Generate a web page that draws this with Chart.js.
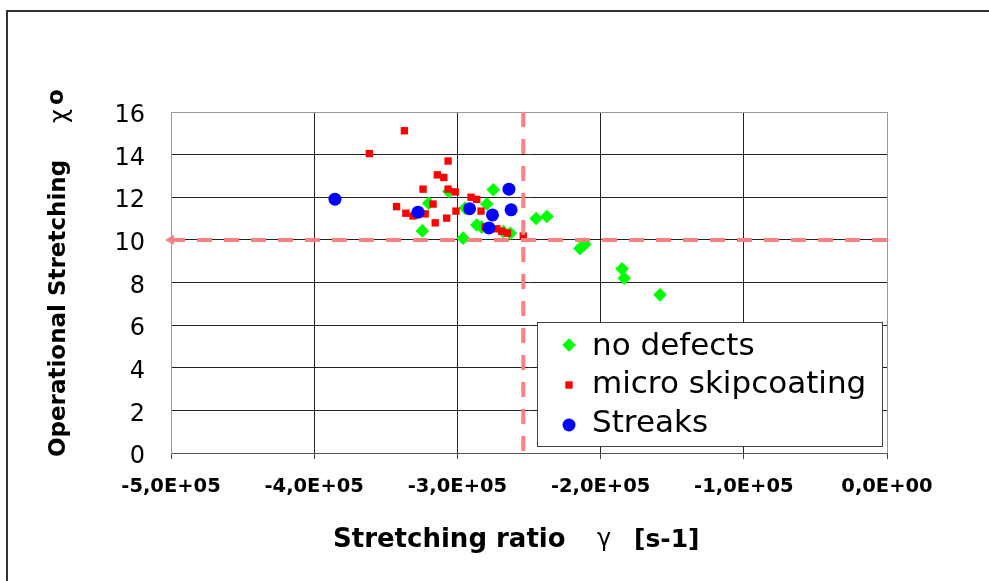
<!DOCTYPE html>
<html>
<head>
<meta charset="utf-8">
<title>Operational Stretching vs Stretching ratio</title>
<script src="https://cdn.jsdelivr.net/npm/chart.js"></script>
<style>
  html, body { margin: 0; padding: 0; background: #fff; }
  canvas { display: block; }
</style>
</head>
<body>
<canvas id="chart" width="989" height="581"></canvas>
<script>
// ===== DATA =====
const noDefectsX = [-2.75e5, -3.06e5, -3.20e5, -2.795e5, -2.945e5, -3.245e5, -2.96e5, -2.865e5, -2.83e5,
  -2.68e5, -2.63e5, -2.45e5, -2.375e5, -2.145e5, -2.11e5, -1.85e5, -1.835e5, -1.585e5]
const noDefectsY = [12.35, 12.27, 11.72, 11.68, 11.49, 10.42, 10.08, 10.7, 10.6,
  10.39, 10.31, 11.0, 11.1, 9.6, 9.8, 8.64, 8.2, 7.42]

const skipX = [-3.37e5, -3.615e5, -3.065e5, -3.14e5, -3.095e5, -3.24e5, -3.065e5, -3.015e5, -2.905e5,
  -2.865e5, -3.425e5, -3.17e5, -3.01e5, -2.835e5, -3.36e5, -3.31e5, -3.225e5, -3.075e5, -3.155e5,
  -2.805e5, -2.725e5, -2.69e5, -2.65e5, -2.54e5]
const skipY = [15.12, 14.05, 13.7, 13.05, 12.93, 12.38, 12.38, 12.25, 12.0,
  11.9, 11.56, 11.68, 11.35, 11.35, 11.25, 11.12, 11.22, 11.02, 10.8,
  10.6, 10.52, 10.4, 10.32, 10.18]

const streaksX = [-3.855e5, -3.275e5, -2.915e5, -2.755e5, -2.64e5, -2.625e5, -2.78e5]
const streaksY = [11.91, 11.3, 11.46, 11.17, 12.38, 11.41, 10.56]

// limit lines (dashed)
const limitVX = [-2.54e5, -2.54e5]
const limitVY = [16, 0]
const limitHX = [0, -5e5]
const limitHY = [10, 10]

const seriesLabels = ['no defects', 'micro skipcoating', 'Streaks']
const xTickLabels = ['-5,0E+05', '-4,0E+05', '-3,0E+05', '-2,0E+05', '-1,0E+05', '0,0E+00']
const yTickLabels = ['0', '2', '4', '6', '8', '10', '12', '14', '16']

const X_MIN = -5e5
const X_MAX = 0
const Y_MIN = 0
const Y_MAX = 16

function toPoints(xs, ys) {
  return xs.map((x, i) => ({ x: x, y: ys[i] }))
}

// ===== STYLE =====
const GREEN = '#00FF00'
const RED = '#FF0000'
const BLUE = '#0000FF'
const PINK = '#FF8080'
const FONT = '"DejaVu Sans", "Liberation Sans", sans-serif'

const markers = [
  { style: 'rectRot', radius: 6.8, color: GREEN },
  { style: 'rect', radius: 5.2, color: RED },
  { style: 'circle', radius: 6.5, color: BLUE }
]

// ===== PLUGIN: background + outer frame =====
const framePlugin = {
  id: 'frame',
  beforeDraw(chart) {
    const ctx = chart.ctx
    ctx.save()
    ctx.fillStyle = '#fff'
    ctx.fillRect(0, 0, chart.width, chart.height)
    ctx.strokeStyle = '#333'
    ctx.lineWidth = 2
    ctx.beginPath()
    ctx.moveTo(7, chart.height + 2)
    ctx.lineTo(7, 11)
    ctx.lineTo(chart.width + 2, 11)
    ctx.stroke()
    ctx.restore()
  }
}

// ===== PLUGIN: axis titles + legend box =====
const annotatePlugin = {
  id: 'annotate',
  afterDraw(chart) {
    const ctx = chart.ctx
    ctx.save()
    ctx.fillStyle = '#000'
    ctx.textAlign = 'left'
    ctx.textBaseline = 'alphabetic'

    // x title
    ctx.font = 'bold 26px ' + FONT
    ctx.fillText('Stretching ratio', 333, 547)
    ctx.font = '24px ' + FONT
    ctx.fillText('γ', 597, 546)
    ctx.font = 'bold 25px ' + FONT
    ctx.fillText('[s-1]', 634, 547)

    // y title (rotated)
    ctx.save()
    ctx.translate(65, 457)
    ctx.rotate(-Math.PI / 2)
    ctx.font = 'bold 23px ' + FONT
    ctx.fillText('Operational Stretching', 0, 0)
    ctx.font = '24px ' + FONT
    ctx.fillText('χ', 334, 2)
    ctx.font = 'bold 23px ' + FONT
    ctx.fillText('o', 352, -2)
    ctx.restore()

    // legend
    ctx.fillStyle = '#fff'
    ctx.fillRect(537.5, 322.5, 345, 124)
    ctx.strokeStyle = '#444'
    ctx.lineWidth = 1
    ctx.strokeRect(537.5, 322.5, 345, 124)

    const rowsY = [345, 385, 425]
    const baseY = [355, 393, 431.5]
    seriesLabels.forEach((label, i) => {
      const m = markers[i]
      ctx.fillStyle = m.color
      Chart.helpers.drawPoint(ctx, { pointStyle: m.style, radius: m.radius, rotation: 0, borderWidth: 0 }, 569, rowsY[i])
      ctx.fillStyle = '#000'
      ctx.font = '31px ' + FONT
      ctx.fillText(label, 592, baseY[i])
    })
    ctx.restore()
  }
}

// ===== RENDER =====
Chart.defaults.font.family = FONT
Chart.defaults.color = '#000'

const ctx = document.getElementById('chart').getContext('2d')

new Chart(ctx, {
  type: 'scatter',
  data: {
    datasets: [
      {
        label: seriesLabels[0],
        data: toPoints(noDefectsX, noDefectsY),
        pointStyle: markers[0].style,
        pointRadius: markers[0].radius,
        backgroundColor: GREEN,
        borderWidth: 0,
        order: 5
      },
      {
        label: seriesLabels[1],
        data: toPoints(skipX, skipY),
        pointStyle: markers[1].style,
        pointRadius: markers[1].radius,
        backgroundColor: RED,
        borderWidth: 0,
        order: 4
      },
      {
        label: seriesLabels[2],
        data: toPoints(streaksX, streaksY),
        pointStyle: markers[2].style,
        pointRadius: markers[2].radius,
        backgroundColor: BLUE,
        borderWidth: 0,
        order: 3
      },
      {
        label: 'limit gamma',
        data: toPoints(limitVX, limitVY),
        showLine: true,
        borderColor: PINK,
        borderWidth: 4,
        borderDash: [15, 12],
        pointRadius: 0,
        clip: 0,
        order: 2
      },
      {
        label: 'limit chi',
        data: toPoints(limitHX, limitHY),
        showLine: true,
        borderColor: PINK,
        borderWidth: 4,
        borderDash: [15, 12],
        pointRadius: [0, 6],
        pointStyle: 'triangle',
        pointRotation: -90,
        pointBackgroundColor: PINK,
        pointBorderWidth: 0,
        clip: false,
        order: 1
      }
    ]
  },
  options: {
    responsive: false,
    animation: false,
    events: [],
    layout: {
      padding: { top: 112, right: 102, left: 0, bottom: 0 }
    },
    plugins: {
      legend: { display: false },
      tooltip: { enabled: false }
    },
    scales: {
      x: {
        type: 'linear',
        min: X_MIN,
        max: X_MAX,
        afterFit: scale => { scale.height = 128 },
        ticks: {
          stepSize: 1e5,
          padding: 16,
          font: { size: 19.5, weight: 'bold' },
          callback: (value, index) => xTickLabels[index]
        },
        grid: {
          color: c => (c.tick && (c.tick.value === X_MIN || c.tick.value === X_MAX)) ? '#999' : '#222',
          tickColor: '#444',
          tickLength: 6,
          lineWidth: 1
        },
        border: { color: '#555', width: 1 }
      },
      y: {
        min: Y_MIN,
        max: Y_MAX,
        afterFit: scale => { scale.width = 171 },
        ticks: {
          stepSize: 2,
          padding: 26,
          labelOffset: 4,
          font: { size: 24 },
          callback: (value, index) => yTickLabels[index]
        },
        grid: {
          color: c => {
            if (!c.tick) return '#222'
            if (c.tick.value === Y_MAX) return '#999'
            if (c.tick.value === Y_MIN) return '#555'
            return '#222'
          },
          drawTicks: false,
          lineWidth: 1
        },
        border: { color: '#999', width: 1 }
      }
    }
  },
  plugins: [framePlugin, annotatePlugin]
})
</script>
</body>
</html>
